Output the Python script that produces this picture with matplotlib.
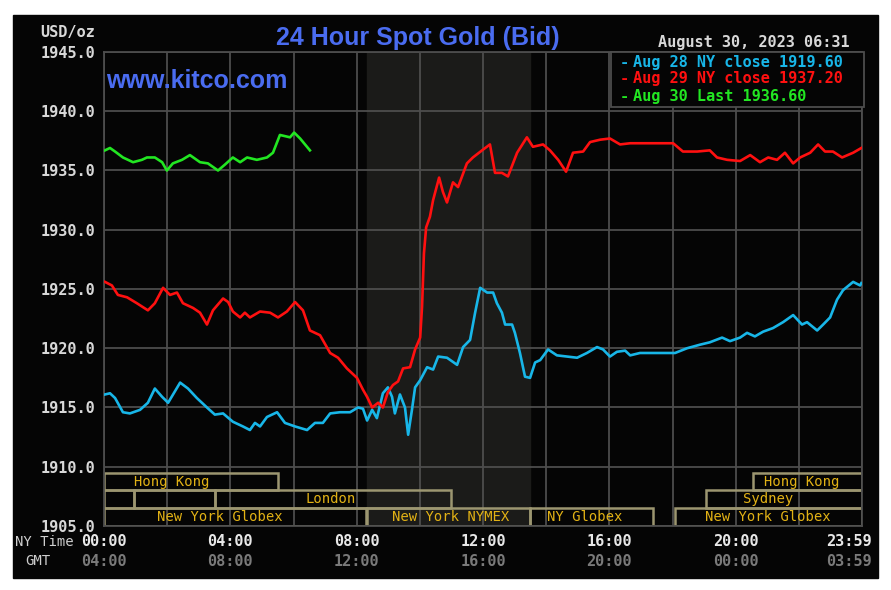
# 24 hour spot gold chart (kitco style)

import matplotlib.pyplot as plt
from matplotlib.patches import Rectangle
from matplotlib.transforms import blended_transform_factory

# --- data (NY time in hours, price in USD/oz) ---
t_aug28 = [0.03, 0.19, 0.35, 0.60, 0.82, 1.14, 1.39, 1.61, 1.84, 2.03,
           2.41, 2.66, 2.94, 3.26, 3.51, 3.77, 4.08, 4.40, 4.62, 4.78,
           4.94, 5.16, 5.48, 5.73, 6.05, 6.43, 6.68, 6.93, 7.16, 7.47,
           7.79, 8.04, 8.20, 8.33, 8.49, 8.64, 8.83, 8.99, 9.12, 9.21,
           9.37, 9.53, 9.63, 9.75, 9.85, 10.01, 10.23, 10.42, 10.58, 10.86,
           11.18, 11.37, 11.59, 11.75, 11.91, 12.13, 12.32, 12.44, 12.60, 12.70,
           12.92, 13.01, 13.17, 13.33, 13.49, 13.65, 13.81, 14.06, 14.34, 14.66,
           14.98, 15.29, 15.61, 15.80, 16.02, 16.24, 16.50, 16.66, 16.97, 17.38,
           18.08, 18.46, 18.87, 19.18, 19.57, 19.82, 20.14, 20.36, 20.61, 20.87,
           21.18, 21.50, 21.82, 22.10, 22.26, 22.58, 22.77, 22.99, 23.21, 23.40,
           23.72, 23.94, 23.98]
v_aug28 = [1916.1, 1916.2, 1915.8, 1914.6, 1914.5, 1914.8, 1915.4, 1916.6, 1915.9, 1915.4,
           1917.1, 1916.6, 1915.8, 1915.0, 1914.4, 1914.5, 1913.8, 1913.4, 1913.1, 1913.7,
           1913.4, 1914.2, 1914.6, 1913.7, 1913.4, 1913.1, 1913.7, 1913.7, 1914.5, 1914.6,
           1914.6, 1915.0, 1914.9, 1913.9, 1914.8, 1914.1, 1916.2, 1916.7, 1915.9, 1914.5,
           1916.1, 1915.0, 1912.7, 1914.8, 1916.7, 1917.3, 1918.4, 1918.2, 1919.3, 1919.2,
           1918.6, 1920.1, 1920.7, 1923.0, 1925.1, 1924.7, 1924.7, 1923.8, 1923.0, 1922.0,
           1922.0, 1921.3, 1919.6, 1917.6, 1917.5, 1918.8, 1919.0, 1919.9, 1919.4, 1919.3,
           1919.2, 1919.6, 1920.1, 1919.9, 1919.3, 1919.7, 1919.8, 1919.4, 1919.6, 1919.6,
           1919.6, 1920.0, 1920.3, 1920.5, 1920.9, 1920.6, 1920.9, 1921.3, 1921.0, 1921.4,
           1921.7, 1922.2, 1922.8, 1922.0, 1922.2, 1921.5, 1922.0, 1922.6, 1924.1, 1924.9,
           1925.6, 1925.3, 1925.5]

t_aug29 = [0.03, 0.25, 0.44, 0.73, 1.04, 1.39, 1.61, 1.87, 2.09, 2.31,
           2.50, 2.82, 3.04, 3.26, 3.45, 3.77, 3.93, 4.08, 4.31, 4.46,
           4.62, 4.94, 5.26, 5.51, 5.79, 6.05, 6.30, 6.52, 6.84, 7.16,
           7.41, 7.69, 8.01, 8.20, 8.33, 8.49, 8.68, 8.83, 8.99, 9.15,
           9.31, 9.47, 9.69, 9.85, 10.01, 10.07, 10.13, 10.20, 10.32, 10.42,
           10.61, 10.73, 10.86, 11.05, 11.21, 11.49, 11.68, 11.97, 12.22, 12.38,
           12.60, 12.79, 13.08, 13.39, 13.58, 13.90, 14.12, 14.38, 14.63, 14.85,
           15.17, 15.39, 15.71, 16.02, 16.34, 16.66, 16.97, 17.38, 18.02, 18.33,
           18.78, 19.18, 19.41, 19.73, 20.14, 20.46, 20.77, 21.03, 21.31, 21.56,
           21.82, 22.04, 22.36, 22.61, 22.83, 23.08, 23.37, 23.72, 23.98]
v_aug29 = [1925.6, 1925.3, 1924.5, 1924.3, 1923.8, 1923.2, 1923.8, 1925.1, 1924.5, 1924.7,
           1923.8, 1923.4, 1923.0, 1922.0, 1923.2, 1924.2, 1923.9, 1923.1, 1922.6, 1923.0,
           1922.6, 1923.1, 1923.0, 1922.6, 1923.1, 1923.9, 1923.2, 1921.5, 1921.1, 1919.6,
           1919.2, 1918.3, 1917.5, 1916.5, 1915.9, 1915.0, 1915.4, 1915.0, 1916.3, 1916.9,
           1917.2, 1918.3, 1918.4, 1919.9, 1920.9, 1923.5, 1928.0, 1930.2, 1931.1, 1932.5,
           1934.4, 1933.2, 1932.3, 1934.0, 1933.6, 1935.6, 1936.1, 1936.7, 1937.2, 1934.8,
           1934.8, 1934.5, 1936.5, 1937.8, 1937.0, 1937.2, 1936.7, 1935.9, 1934.9, 1936.5,
           1936.6, 1937.4, 1937.6, 1937.7, 1937.2, 1937.3, 1937.3, 1937.3, 1937.3, 1936.6,
           1936.6, 1936.7, 1936.1, 1935.9, 1935.8, 1936.3, 1935.7, 1936.1, 1935.9, 1936.5,
           1935.6, 1936.1, 1936.5, 1937.2, 1936.6, 1936.6, 1936.1, 1936.5, 1936.9]

t_aug30 = [0.03, 0.19, 0.35, 0.60, 0.92, 1.20, 1.36, 1.61, 1.84, 1.99,
           2.18, 2.47, 2.72, 3.04, 3.29, 3.61, 3.83, 4.08, 4.31, 4.53,
           4.84, 5.16, 5.35, 5.57, 5.89, 6.02, 6.21, 6.52]
v_aug30 = [1936.7, 1936.9, 1936.6, 1936.1, 1935.7, 1935.9, 1936.1, 1936.1, 1935.7, 1935.0,
           1935.6, 1935.9, 1936.3, 1935.7, 1935.6, 1935.0, 1935.5, 1936.1, 1935.7, 1936.1,
           1935.9, 1936.1, 1936.5, 1938.0, 1937.8, 1938.2, 1937.7, 1936.7]

legend_labels = ['Aug 28 NY close 1919.60', 'Aug 29 NY close 1937.20', 'Aug 30 Last 1936.60']

ny_ticks = [0, 4, 8, 12, 16, 20, 23.6]
ny_labels = ['00:00', '04:00', '08:00', '12:00', '16:00', '20:00', '23:59']
gmt_labels = ['04:00', '08:00', '12:00', '16:00', '20:00', '00:00', '03:59']

# market sessions: (row, start, end)
session_boxes = [(0, 0, 5.5), (0, 20.55, 24),
                 (1, 0, 0.95), (1, 0.95, 3.5), (1, 3.5, 11.0), (1, 19.05, 24),
                 (2, 0, 8.3), (2, 8.33, 13.5), (2, 13.5, 17.38), (2, 18.08, 24)]
session_names = ['Hong Kong', 'London', 'New York Globex', 'New York NYMEX',
                 'NY Globex', 'New York Globex', 'Sydney', 'Hong Kong']
session_rows = [0, 1, 2, 2, 2, 2, 1, 0]
session_mid = [2.14, 7.19, 3.67, 10.96, 15.23, 21.03, 21.03, 22.1]

W, H = 891, 590
def fx(x):
    return x / W
def fy(y):
    return 1 - y / H

BG = '#050505'
GRID = '#4d4d4d'
MONO = 'DejaVu Sans Mono'
GOLD = '#e2b215'
BOXC = '#9c9670'

fig = plt.figure(figsize=(8.91, 5.90), dpi=100, facecolor='white')
fig.add_artist(Rectangle((fx(13), fy(578)), fx(878) - fx(13), fy(15) - fy(578),
                         transform=fig.transFigure, color=BG, zorder=-1))

ax = fig.add_axes([fx(104), fy(526), fx(862) - fx(104), fy(52) - fy(526)])
ax.set_facecolor(BG)
ax.set_xlim(0, 24)
ax.set_ylim(1905, 1945)
ax.axvspan(8.33, 13.5, color='#1b1b19', zorder=0)
ax.set_xticks(range(0, 25, 2))
ax.set_yticks(range(1905, 1946, 5))
ax.set_yticklabels(['%.1f' % v for v in range(1905, 1946, 5)],
                   fontfamily=MONO, fontweight='bold', fontsize=11)
ax.grid(True, color=GRID, lw=1.3, zorder=1)
ax.set_axisbelow(True)
ax.tick_params(length=0, labelbottom=False, pad=6, labelcolor='#d8d8d8')
for s in ax.spines.values():
    s.set_color(GRID)
    s.set_linewidth(1.3)

# session boxes along the bottom
row_y = [1908.0, 1906.5, 1905.0]
row_h = 1.5
for row, a, b in session_boxes:
    ax.add_patch(Rectangle((a, row_y[row]), b - a, row_h, fill=False,
                           edgecolor=BOXC, lw=1.8, zorder=2))
for name, row, mid in zip(session_names, session_rows, session_mid):
    ax.text(mid, row_y[row] + row_h / 2, name, color=GOLD, fontfamily=MONO,
            fontsize=10, ha='center', va='center', zorder=3)

# price lines
ax.plot(t_aug28, v_aug28, color='#18b6e8', lw=1.9, zorder=4)
ax.plot(t_aug29, v_aug29, color='#ff1010', lw=1.9, zorder=4)
ax.plot(t_aug30, v_aug30, color='#22e622', lw=1.9, zorder=4)

# x labels (NY time and GMT rows)
tr = blended_transform_factory(ax.transData, fig.transFigure)
for x, a, b in zip(ny_ticks, ny_labels, gmt_labels):
    ax.text(x, fy(542), a, transform=tr, color='#e8e8e8', fontfamily=MONO,
            fontweight='bold', fontsize=11, ha='center', va='center', clip_on=False)
    ax.text(x, fy(561), b, transform=tr, color='#7a7a7a', fontfamily=MONO,
            fontweight='bold', fontsize=11, ha='center', va='center', clip_on=False)
fig.text(fx(44), fy(542), 'NY Time', color='#cfcfcf', fontfamily=MONO, fontsize=10,
         ha='center', va='center')
fig.text(fx(38), fy(561), 'GMT', color='#cfcfcf', fontfamily=MONO, fontsize=10,
         ha='center', va='center')

# titles
fig.text(fx(68), fy(33), 'USD/oz', color='#d8d8d8', fontfamily=MONO, fontweight='bold',
         fontsize=11, ha='center', va='center')
fig.text(fx(418), fy(38), '24 Hour Spot Gold (Bid)', color='#4a6cf0',
         family='Liberation Sans', fontweight='bold', fontsize=18,
         ha='center', va='center')
fig.text(fx(106), fy(81), 'www.kitco.com', color='#4a6cf0', family='Liberation Sans',
         fontweight='bold', fontsize=18, ha='left', va='center')
fig.text(fx(850), fy(43), 'August 30, 2023 06:31', color='#d8d8d8', fontfamily=MONO,
         fontweight='bold', fontsize=11, ha='right', va='center')

# legend box
fig.add_artist(Rectangle((fx(611), fy(107)), fx(864) - fx(611), fy(52) - fy(107),
                         transform=fig.transFigure, facecolor=BG, edgecolor=GRID,
                         lw=1.3, zorder=5))
for lab, col, y in zip(legend_labels, ['#18b6e8', '#ff1010', '#22e622'], [62, 79, 96]):
    fig.text(fx(620), fy(y), '-', color=col, fontfamily=MONO, fontweight='bold',
             fontsize=11, ha='left', va='center', zorder=6)
    fig.text(fx(633), fy(y), lab, color=col, fontfamily=MONO, fontweight='bold',
             fontsize=11, ha='left', va='center', zorder=6)

plt.savefig('out.png', dpi=100, facecolor='white')
